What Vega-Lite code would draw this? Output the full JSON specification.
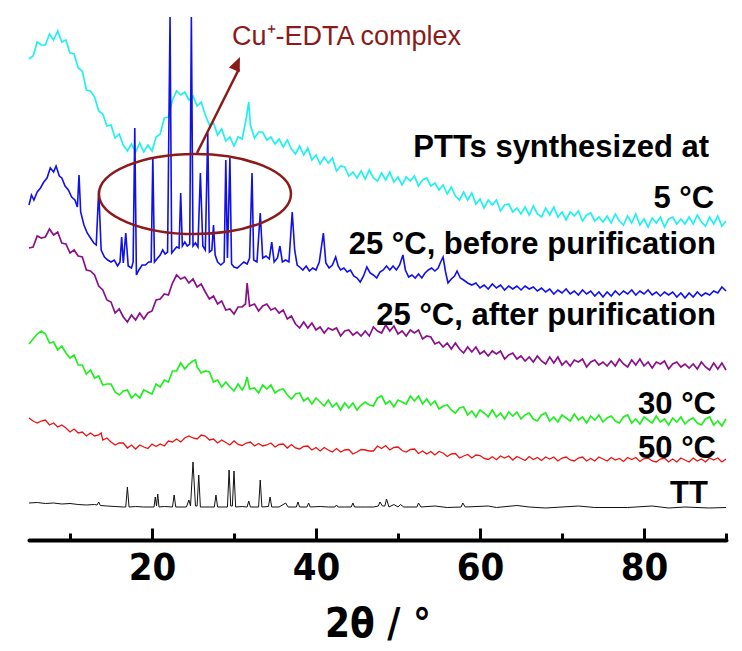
{
"$schema": "https://vega.github.io/schema/vega-lite/v6.json",
"width": 697, "height": 540,
"autosize": {"type": "none"},
"padding": {"left": 29, "right": 16, "top": 0, "bottom": 111},
"background": "white",
"config": {"view": {"stroke": null}},
"resolve": {"axis": {"x": "independent"}},
"datasets": {
"cyan": [{"x":5,"y":481},{"x":5.5,"y":484},{"x":6,"y":498},{"x":6.5,"y":495},{"x":7,"y":495},{"x":7.5,"y":506},{"x":8,"y":500},{"x":8.5,"y":509},{"x":9,"y":498},{"x":9.5,"y":500},{"x":10,"y":487},{"x":10.5,"y":486},{"x":11,"y":472},{"x":11.5,"y":469},{"x":12,"y":450},{"x":12.5,"y":449},{"x":13,"y":443},{"x":13.5,"y":429},{"x":14,"y":426},{"x":14.5,"y":414},{"x":15,"y":415},{"x":15.5,"y":402},{"x":16,"y":406},{"x":16.5,"y":395},{"x":17,"y":389},{"x":17.5,"y":396},{"x":18,"y":388},{"x":18.5,"y":397},{"x":19,"y":388},{"x":19.5,"y":395},{"x":20,"y":389},{"x":20.5,"y":403},{"x":21,"y":406},{"x":21.5,"y":422},{"x":22,"y":423},{"x":22.5,"y":440},{"x":23,"y":449},{"x":23.5,"y":445},{"x":24,"y":448},{"x":24.5,"y":440},{"x":25,"y":444},{"x":25.5,"y":434},{"x":26,"y":438},{"x":26.5,"y":425},{"x":27,"y":415},{"x":27.5,"y":417},{"x":28,"y":405},{"x":28.5,"y":411},{"x":29,"y":399},{"x":29.5,"y":403},{"x":30,"y":394},{"x":30.5,"y":403},{"x":31,"y":401},{"x":31.5,"y":422},{"x":31.8,"y":438},{"x":32,"y":415},{"x":32.5,"y":402},{"x":33,"y":408},{"x":33.5,"y":408},{"x":34,"y":400},{"x":34.5,"y":403},{"x":35,"y":396},{"x":35.5,"y":401},{"x":36,"y":393},{"x":36.5,"y":400},{"x":37,"y":391},{"x":37.5,"y":386},{"x":38,"y":394},{"x":38.5,"y":385},{"x":39,"y":392},{"x":39.5,"y":380},{"x":40,"y":385},{"x":40.5,"y":376},{"x":41,"y":383},{"x":41.5,"y":377},{"x":42,"y":382},{"x":42.5,"y":369},{"x":43,"y":374},{"x":43.5,"y":373},{"x":44,"y":364},{"x":44.5,"y":368},{"x":45,"y":362},{"x":45.5,"y":369},{"x":46,"y":361},{"x":46.5,"y":370},{"x":47,"y":362},{"x":47.5,"y":359},{"x":48,"y":367},{"x":48.5,"y":360},{"x":49,"y":368},{"x":49.5,"y":358},{"x":50,"y":363},{"x":50.5,"y":355},{"x":51,"y":363},{"x":51.5,"y":359},{"x":52,"y":364},{"x":52.5,"y":354},{"x":53,"y":360},{"x":53.5,"y":362},{"x":54,"y":354},{"x":54.5,"y":357},{"x":55,"y":350},{"x":55.5,"y":355},{"x":56,"y":346},{"x":56.5,"y":353},{"x":57,"y":344},{"x":57.5,"y":340},{"x":58,"y":348},{"x":58.5,"y":340},{"x":59,"y":347},{"x":59.5,"y":336},{"x":60,"y":341},{"x":60.5,"y":332},{"x":61,"y":340},{"x":61.5,"y":335},{"x":62,"y":340},{"x":62.5,"y":329},{"x":63,"y":335},{"x":63.5,"y":336},{"x":64,"y":328},{"x":64.5,"y":332},{"x":65,"y":326},{"x":65.5,"y":333},{"x":66,"y":325},{"x":66.5,"y":334},{"x":67,"y":326},{"x":67.5,"y":323},{"x":68,"y":332},{"x":68.5,"y":325},{"x":69,"y":333},{"x":69.5,"y":323},{"x":70,"y":328},{"x":70.5,"y":320},{"x":71,"y":328},{"x":71.5,"y":324},{"x":72,"y":329},{"x":72.5,"y":319},{"x":73,"y":325},{"x":73.5,"y":327},{"x":74,"y":319},{"x":74.5,"y":323},{"x":75,"y":318},{"x":75.5,"y":324},{"x":76,"y":317},{"x":76.5,"y":326},{"x":77,"y":319},{"x":77.5,"y":315},{"x":78,"y":324},{"x":78.5,"y":317},{"x":79,"y":326},{"x":79.5,"y":315},{"x":80,"y":321},{"x":80.5,"y":313},{"x":81,"y":322},{"x":81.5,"y":317},{"x":82,"y":323},{"x":82.5,"y":313},{"x":83,"y":321},{"x":83.5,"y":323},{"x":84,"y":316},{"x":84.5,"y":321},{"x":85,"y":316},{"x":85.5,"y":323},{"x":86,"y":316},{"x":86.5,"y":325},{"x":87,"y":318},{"x":87.5,"y":314},{"x":88,"y":323},{"x":88.5,"y":316},{"x":89,"y":324},{"x":89.5,"y":314},{"x":90,"y":319}],
"blue": [{"x":5,"y":335},{"x":5.3,"y":345},{"x":5.6,"y":340},{"x":6,"y":348},{"x":6.4,"y":352},{"x":6.8,"y":358},{"x":7.2,"y":362},{"x":7.6,"y":372},{"x":8,"y":368},{"x":8.3,"y":374},{"x":8.7,"y":364},{"x":9,"y":362},{"x":9.4,"y":354},{"x":9.8,"y":350},{"x":10.2,"y":343},{"x":10.6,"y":340},{"x":10.9,"y":333},{"x":11.1,"y":365},{"x":11.3,"y":328},{"x":11.7,"y":315},{"x":12.1,"y":307},{"x":12.5,"y":302},{"x":12.9,"y":297},{"x":13.2,"y":295},{"x":13.5,"y":350},{"x":13.8,"y":290},{"x":14.2,"y":283},{"x":14.6,"y":280},{"x":15,"y":278},{"x":15.4,"y":280},{"x":15.8,"y":274},{"x":16.1,"y":278},{"x":16.3,"y":303},{"x":16.5,"y":277},{"x":16.8,"y":307},{"x":17.1,"y":274},{"x":17.5,"y":272},{"x":17.7,"y":278},{"x":17.9,"y":412},{"x":18.1,"y":265},{"x":18.4,"y":270},{"x":18.8,"y":275},{"x":19.2,"y":275},{"x":19.6,"y":278},{"x":19.9,"y":278},{"x":20.1,"y":383},{"x":20.3,"y":278},{"x":20.7,"y":282},{"x":21,"y":285},{"x":21.3,"y":290},{"x":21.6,"y":286},{"x":21.9,"y":288},{"x":22.2,"y":523},{"x":22.4,"y":287},{"x":22.7,"y":290},{"x":23,"y":293},{"x":23.3,"y":292},{"x":23.5,"y":347},{"x":23.7,"y":294},{"x":24,"y":298},{"x":24.3,"y":294},{"x":24.6,"y":296},{"x":24.8,"y":523},{"x":25,"y":294},{"x":25.3,"y":297},{"x":25.6,"y":293},{"x":25.9,"y":367},{"x":26.2,"y":294},{"x":26.5,"y":290},{"x":26.8,"y":407},{"x":27,"y":288},{"x":27.3,"y":290},{"x":27.5,"y":315},{"x":27.7,"y":285},{"x":28,"y":278},{"x":28.4,"y":275},{"x":28.8,"y":278},{"x":29,"y":380},{"x":29.2,"y":282},{"x":29.5,"y":382},{"x":29.7,"y":276},{"x":30,"y":273},{"x":30.4,"y":272},{"x":30.8,"y":275},{"x":31.2,"y":278},{"x":31.6,"y":276},{"x":31.9,"y":282},{"x":32.2,"y":367},{"x":32.4,"y":280},{"x":32.8,"y":278},{"x":33.2,"y":327},{"x":33.5,"y":282},{"x":33.9,"y":284},{"x":34.3,"y":281},{"x":34.6,"y":298},{"x":34.9,"y":278},{"x":35.3,"y":282},{"x":35.6,"y":294},{"x":35.9,"y":278},{"x":36.3,"y":280},{"x":36.7,"y":278},{"x":37.1,"y":328},{"x":37.4,"y":290},{"x":37.7,"y":275},{"x":38,"y":273},{"x":38.4,"y":270},{"x":38.8,"y":274},{"x":39.2,"y":269},{"x":39.6,"y":272},{"x":40,"y":270},{"x":40.4,"y":278},{"x":40.9,"y":307},{"x":41.2,"y":277},{"x":41.6,"y":272},{"x":42,"y":275},{"x":42.4,"y":283},{"x":42.7,"y":274},{"x":43,"y":270},{"x":43.4,"y":272},{"x":43.8,"y":268},{"x":44.2,"y":270},{"x":44.6,"y":264},{"x":45,"y":262},{"x":45.4,"y":258},{"x":45.8,"y":264},{"x":46.2,"y":273},{"x":46.6,"y":267},{"x":47,"y":265},{"x":47.4,"y":262},{"x":47.8,"y":268},{"x":48.2,"y":270},{"x":48.6,"y":274},{"x":49,"y":270},{"x":49.4,"y":274},{"x":49.8,"y":270},{"x":50.2,"y":275},{"x":50.6,"y":285},{"x":50.9,"y":270},{"x":51.3,"y":263},{"x":51.7,"y":265},{"x":52.1,"y":262},{"x":52.5,"y":266},{"x":52.9,"y":262},{"x":53.3,"y":267},{"x":53.7,"y":270},{"x":54.1,"y":272},{"x":54.5,"y":269},{"x":54.9,"y":272},{"x":55.2,"y":278},{"x":55.5,"y":283},{"x":55.8,"y":268},{"x":56.1,"y":257},{"x":56.5,"y":261},{"x":56.9,"y":264},{"x":57.2,"y":269},{"x":57.6,"y":262},{"x":58,"y":260},{"x":58.5,"y":257},{"x":59,"y":255},{"x":59.5,"y":257},{"x":60,"y":252},{"x":60.5,"y":255},{"x":61,"y":251},{"x":61.5,"y":256},{"x":62,"y":252},{"x":62.5,"y":255},{"x":63,"y":250},{"x":63.5,"y":254},{"x":64,"y":251},{"x":64.5,"y":254},{"x":65,"y":250},{"x":65.5,"y":254},{"x":66,"y":251},{"x":66.5,"y":253},{"x":67,"y":249},{"x":67.5,"y":252},{"x":68,"y":248},{"x":68.5,"y":251},{"x":69,"y":246},{"x":69.5,"y":250},{"x":70,"y":247},{"x":70.5,"y":251},{"x":71,"y":246},{"x":71.5,"y":249},{"x":72,"y":245},{"x":72.5,"y":250},{"x":73,"y":246},{"x":73.5,"y":249},{"x":74,"y":244},{"x":74.5,"y":248},{"x":75,"y":243},{"x":75.5,"y":248},{"x":76,"y":244},{"x":76.5,"y":249},{"x":77,"y":245},{"x":77.5,"y":249},{"x":78,"y":246},{"x":78.5,"y":250},{"x":79,"y":245},{"x":79.5,"y":249},{"x":80,"y":246},{"x":80.5,"y":250},{"x":81,"y":245},{"x":81.5,"y":248},{"x":82,"y":244},{"x":82.5,"y":248},{"x":83,"y":245},{"x":83.5,"y":248},{"x":84,"y":243},{"x":84.5,"y":247},{"x":85,"y":242},{"x":85.5,"y":247},{"x":86,"y":243},{"x":86.5,"y":248},{"x":87,"y":244},{"x":87.5,"y":247},{"x":88,"y":245},{"x":88.5,"y":249},{"x":89,"y":247},{"x":89.5,"y":253},{"x":90,"y":249}],
"purple": [{"x":5,"y":292},{"x":5.5,"y":293},{"x":6,"y":304},{"x":6.5,"y":302},{"x":7,"y":303},{"x":7.5,"y":311},{"x":8,"y":305},{"x":8.5,"y":308},{"x":9,"y":297},{"x":9.5,"y":296},{"x":10,"y":287},{"x":10.5,"y":290},{"x":11,"y":284},{"x":11.5,"y":283},{"x":12,"y":270},{"x":12.5,"y":269},{"x":13,"y":265},{"x":13.5,"y":254},{"x":14,"y":250},{"x":14.5,"y":240},{"x":15,"y":238},{"x":15.5,"y":227},{"x":16,"y":231},{"x":16.5,"y":223},{"x":17,"y":218},{"x":17.5,"y":225},{"x":18,"y":220},{"x":18.5,"y":227},{"x":19,"y":221},{"x":19.5,"y":227},{"x":20,"y":229},{"x":20.5,"y":240},{"x":21,"y":241},{"x":21.5,"y":246},{"x":22,"y":245},{"x":22.5,"y":257},{"x":23,"y":265},{"x":23.5,"y":261},{"x":24,"y":263},{"x":24.5,"y":257},{"x":25,"y":261},{"x":25.5,"y":253},{"x":26,"y":256},{"x":26.5,"y":248},{"x":27,"y":241},{"x":27.5,"y":244},{"x":28,"y":236},{"x":28.5,"y":239},{"x":29,"y":230},{"x":29.5,"y":231},{"x":30,"y":226},{"x":30.5,"y":233},{"x":31,"y":233},{"x":31.4,"y":236},{"x":31.6,"y":257},{"x":31.9,"y":234},{"x":32.5,"y":236},{"x":33,"y":229},{"x":33.5,"y":234},{"x":34,"y":236},{"x":34.5,"y":230},{"x":35,"y":232},{"x":35.5,"y":227},{"x":36,"y":230},{"x":36.5,"y":221},{"x":37,"y":224},{"x":37.5,"y":216},{"x":38,"y":212},{"x":38.5,"y":218},{"x":39,"y":212},{"x":39.5,"y":217},{"x":40,"y":210},{"x":40.5,"y":213},{"x":41,"y":207},{"x":41.5,"y":212},{"x":42,"y":210},{"x":42.5,"y":212},{"x":43,"y":204},{"x":43.5,"y":209},{"x":44,"y":210},{"x":44.5,"y":205},{"x":45,"y":208},{"x":45.5,"y":204},{"x":46,"y":209},{"x":46.5,"y":204},{"x":47,"y":213},{"x":47.5,"y":209},{"x":48,"y":207},{"x":48.5,"y":215},{"x":49,"y":209},{"x":49.5,"y":214},{"x":50,"y":206},{"x":50.5,"y":209},{"x":51,"y":204},{"x":51.5,"y":210},{"x":52,"y":207},{"x":52.5,"y":210},{"x":53,"y":201},{"x":53.5,"y":204},{"x":54,"y":203},{"x":54.5,"y":196},{"x":55,"y":198},{"x":55.5,"y":193},{"x":56,"y":197},{"x":56.5,"y":191},{"x":57,"y":197},{"x":57.5,"y":191},{"x":58,"y":187},{"x":58.5,"y":193},{"x":59,"y":188},{"x":59.5,"y":193},{"x":60,"y":186},{"x":60.5,"y":189},{"x":61,"y":184},{"x":61.5,"y":189},{"x":62,"y":186},{"x":62.5,"y":189},{"x":63,"y":181},{"x":63.5,"y":185},{"x":64,"y":187},{"x":64.5,"y":181},{"x":65,"y":184},{"x":65.5,"y":179},{"x":66,"y":183},{"x":66.5,"y":178},{"x":67,"y":184},{"x":67.5,"y":179},{"x":68,"y":176},{"x":68.5,"y":183},{"x":69,"y":177},{"x":69.5,"y":183},{"x":70,"y":175},{"x":70.5,"y":179},{"x":71,"y":174},{"x":71.5,"y":180},{"x":72,"y":178},{"x":72.5,"y":181},{"x":73,"y":173},{"x":73.5,"y":178},{"x":74,"y":180},{"x":74.5,"y":175},{"x":75,"y":178},{"x":75.5,"y":174},{"x":76,"y":179},{"x":76.5,"y":174},{"x":77,"y":181},{"x":77.5,"y":176},{"x":78,"y":173},{"x":78.5,"y":180},{"x":79,"y":175},{"x":79.5,"y":181},{"x":80,"y":174},{"x":80.5,"y":178},{"x":81,"y":172},{"x":81.5,"y":178},{"x":82,"y":176},{"x":82.5,"y":179},{"x":83,"y":171},{"x":83.5,"y":176},{"x":84,"y":178},{"x":84.5,"y":173},{"x":85,"y":176},{"x":85.5,"y":172},{"x":86,"y":176},{"x":86.5,"y":171},{"x":87,"y":178},{"x":87.5,"y":173},{"x":88,"y":170},{"x":88.5,"y":177},{"x":89,"y":171},{"x":89.5,"y":177},{"x":90,"y":170}],
"green": [{"x":5,"y":196},{"x":5.5,"y":201},{"x":6,"y":206},{"x":6.5,"y":209},{"x":7,"y":206},{"x":7.5,"y":197},{"x":8,"y":198},{"x":8.5,"y":190},{"x":9,"y":194},{"x":9.5,"y":187},{"x":10,"y":182},{"x":10.5,"y":185},{"x":11,"y":175},{"x":11.5,"y":175},{"x":12,"y":166},{"x":12.5,"y":170},{"x":13,"y":162},{"x":13.5,"y":164},{"x":14,"y":155},{"x":14.5,"y":156},{"x":15,"y":156},{"x":15.5,"y":148},{"x":16,"y":145},{"x":16.5,"y":149},{"x":17,"y":150},{"x":17.5,"y":142},{"x":18,"y":146},{"x":18.5,"y":142},{"x":19,"y":150},{"x":19.5,"y":148},{"x":20,"y":146},{"x":20.5,"y":156},{"x":21,"y":153},{"x":21.5,"y":160},{"x":22,"y":158},{"x":22.5,"y":169},{"x":23,"y":169},{"x":23.5,"y":177},{"x":24,"y":171},{"x":24.5,"y":176},{"x":25,"y":179},{"x":25.3,"y":180},{"x":25.5,"y":173},{"x":26,"y":167},{"x":26.5,"y":169},{"x":27,"y":168},{"x":27.5,"y":158},{"x":28,"y":160},{"x":28.5,"y":153},{"x":29,"y":158},{"x":29.5,"y":153},{"x":30,"y":149},{"x":30.5,"y":156},{"x":31,"y":150},{"x":31.3,"y":154},{"x":31.6,"y":163},{"x":31.9,"y":151},{"x":32.5,"y":152},{"x":33,"y":147},{"x":33.5,"y":155},{"x":34,"y":151},{"x":34.5,"y":155},{"x":35,"y":147},{"x":35.5,"y":150},{"x":36,"y":151},{"x":36.5,"y":145},{"x":37,"y":141},{"x":37.5,"y":146},{"x":38,"y":147},{"x":38.5,"y":139},{"x":39,"y":142},{"x":39.5,"y":136},{"x":40,"y":142},{"x":40.5,"y":138},{"x":41,"y":134},{"x":41.5,"y":140},{"x":42,"y":133},{"x":42.5,"y":137},{"x":43,"y":130},{"x":43.5,"y":137},{"x":44,"y":132},{"x":44.5,"y":137},{"x":45,"y":130},{"x":45.5,"y":135},{"x":46,"y":138},{"x":46.5,"y":135},{"x":47,"y":134},{"x":47.5,"y":142},{"x":48,"y":144},{"x":48.5,"y":136},{"x":49,"y":139},{"x":49.5,"y":133},{"x":50,"y":140},{"x":50.5,"y":138},{"x":51,"y":136},{"x":51.5,"y":144},{"x":52,"y":139},{"x":52.5,"y":144},{"x":53,"y":136},{"x":53.5,"y":141},{"x":54,"y":135},{"x":54.5,"y":139},{"x":55,"y":131},{"x":55.5,"y":134},{"x":56,"y":135},{"x":56.5,"y":130},{"x":57,"y":127},{"x":57.5,"y":132},{"x":58,"y":133},{"x":58.5,"y":125},{"x":59,"y":129},{"x":59.5,"y":123},{"x":60,"y":130},{"x":60.5,"y":127},{"x":61,"y":123},{"x":61.5,"y":130},{"x":62,"y":123},{"x":62.5,"y":127},{"x":63,"y":121},{"x":63.5,"y":128},{"x":64,"y":124},{"x":64.5,"y":128},{"x":65,"y":121},{"x":65.5,"y":125},{"x":66,"y":127},{"x":66.5,"y":121},{"x":67,"y":119},{"x":67.5,"y":125},{"x":68,"y":127},{"x":68.5,"y":119},{"x":69,"y":123},{"x":69.5,"y":118},{"x":70,"y":125},{"x":70.5,"y":122},{"x":71,"y":119},{"x":71.5,"y":126},{"x":72,"y":120},{"x":72.5,"y":123},{"x":73,"y":117},{"x":73.5,"y":124},{"x":74,"y":120},{"x":74.5,"y":125},{"x":75,"y":118},{"x":75.5,"y":122},{"x":76,"y":124},{"x":76.5,"y":119},{"x":77,"y":117},{"x":77.5,"y":123},{"x":78,"y":125},{"x":78.5,"y":117},{"x":79,"y":121},{"x":79.5,"y":116},{"x":80,"y":123},{"x":80.5,"y":120},{"x":81,"y":117},{"x":81.5,"y":124},{"x":82,"y":118},{"x":82.5,"y":121},{"x":83,"y":115},{"x":83.5,"y":122},{"x":84,"y":118},{"x":84.5,"y":123},{"x":85,"y":116},{"x":85.5,"y":120},{"x":86,"y":122},{"x":86.5,"y":117},{"x":87,"y":115},{"x":87.5,"y":121},{"x":88,"y":123},{"x":88.5,"y":115},{"x":89,"y":119},{"x":89.5,"y":114},{"x":90,"y":121}],
"red": [{"x":5,"y":122},{"x":5.5,"y":119},{"x":6,"y":117},{"x":6.5,"y":119},{"x":7,"y":120},{"x":7.5,"y":115},{"x":8,"y":117},{"x":8.5,"y":113},{"x":9,"y":115},{"x":9.5,"y":112},{"x":10,"y":108},{"x":10.5,"y":111},{"x":11,"y":107},{"x":11.5,"y":108},{"x":12,"y":104},{"x":12.5,"y":107},{"x":13,"y":104},{"x":13.5,"y":105},{"x":13.8,"y":107},{"x":14,"y":100},{"x":14.5,"y":102},{"x":15,"y":98},{"x":15.5,"y":95},{"x":16,"y":97},{"x":16.5,"y":97},{"x":17,"y":92},{"x":17.5,"y":95},{"x":18,"y":91},{"x":18.5,"y":95},{"x":19,"y":93},{"x":19.5,"y":91.5},{"x":20,"y":96},{"x":20.5,"y":93.5},{"x":21,"y":96},{"x":21.5,"y":94},{"x":22,"y":99},{"x":22.5,"y":98},{"x":23,"y":101},{"x":23.5,"y":98},{"x":24,"y":102},{"x":24.5,"y":104},{"x":25,"y":102},{"x":25.5,"y":101},{"x":26,"y":105},{"x":26.5,"y":104},{"x":27,"y":100},{"x":27.5,"y":101},{"x":28,"y":97},{"x":28.5,"y":100},{"x":29,"y":97.5},{"x":29.5,"y":95},{"x":30,"y":99},{"x":30.5,"y":95.5},{"x":31,"y":94.5},{"x":31.5,"y":97},{"x":32,"y":98},{"x":32.5,"y":94},{"x":33,"y":96.5},{"x":33.5,"y":94},{"x":34,"y":95},{"x":34.5,"y":97},{"x":35,"y":93},{"x":35.5,"y":95.5},{"x":36,"y":96},{"x":36.5,"y":92},{"x":37,"y":95.5},{"x":37.5,"y":92},{"x":38,"y":91},{"x":38.5,"y":93.5},{"x":39,"y":94},{"x":39.5,"y":90},{"x":40,"y":92.5},{"x":40.5,"y":89},{"x":41,"y":92.5},{"x":41.5,"y":90},{"x":42,"y":88},{"x":42.5,"y":91.5},{"x":43,"y":88},{"x":43.5,"y":90},{"x":44,"y":90.5},{"x":44.5,"y":86},{"x":45,"y":88},{"x":45.5,"y":90.5},{"x":46,"y":90},{"x":46.5,"y":89},{"x":47,"y":89},{"x":47.5,"y":94},{"x":48,"y":91.5},{"x":48.5,"y":94.5},{"x":49,"y":90},{"x":49.5,"y":92.5},{"x":50,"y":93},{"x":50.5,"y":89.5},{"x":51,"y":88},{"x":51.5,"y":90.5},{"x":52,"y":91},{"x":52.5,"y":86.5},{"x":53,"y":89},{"x":53.5,"y":86},{"x":54,"y":88.5},{"x":54.5,"y":85},{"x":55,"y":88.5},{"x":55.5,"y":87},{"x":56,"y":83.5},{"x":56.5,"y":86},{"x":57,"y":86.5},{"x":57.5,"y":82},{"x":58,"y":84},{"x":58.5,"y":85.5},{"x":59,"y":82},{"x":59.5,"y":85},{"x":60,"y":84.5},{"x":60.5,"y":81.5},{"x":61,"y":80.5},{"x":61.5,"y":83.3},{"x":62,"y":80.3},{"x":62.5,"y":84},{"x":63,"y":82},{"x":63.5,"y":84},{"x":64,"y":80},{"x":64.5,"y":83.5},{"x":65,"y":81.5},{"x":65.5,"y":79.5},{"x":66,"y":83.5},{"x":66.5,"y":80.5},{"x":67,"y":82.5},{"x":67.5,"y":79.5},{"x":68,"y":83},{"x":68.5,"y":81},{"x":69,"y":83},{"x":69.5,"y":79},{"x":70,"y":82},{"x":70.5,"y":83},{"x":71,"y":80},{"x":71.5,"y":79},{"x":72,"y":82},{"x":72.5,"y":83},{"x":73,"y":79},{"x":73.5,"y":81.5},{"x":74,"y":79},{"x":74.5,"y":83},{"x":75,"y":81},{"x":75.5,"y":79},{"x":76,"y":82.5},{"x":76.5,"y":80},{"x":77,"y":81.5},{"x":77.5,"y":78.5},{"x":78,"y":82.5},{"x":78.5,"y":80.5},{"x":79,"y":82.5},{"x":79.5,"y":78.5},{"x":80,"y":81.5},{"x":80.5,"y":82},{"x":81,"y":79},{"x":81.5,"y":78},{"x":82,"y":81},{"x":82.5,"y":82},{"x":83,"y":78},{"x":83.5,"y":81},{"x":84,"y":78},{"x":84.5,"y":82},{"x":85,"y":80},{"x":85.5,"y":78},{"x":86,"y":82},{"x":86.5,"y":79},{"x":87,"y":81},{"x":87.5,"y":78},{"x":88,"y":82},{"x":88.5,"y":80},{"x":89,"y":82},{"x":89.5,"y":78},{"x":90,"y":81}],
"black": [{"x":5,"y":37},{"x":6,"y":37.5},{"x":7,"y":36.5},{"x":8,"y":37},{"x":9,"y":36},{"x":10,"y":36.5},{"x":11,"y":35.5},{"x":12,"y":35},{"x":13,"y":35.5},{"x":13.3,"y":35},{"x":13.5,"y":38},{"x":13.7,"y":34.5},{"x":14.5,"y":34},{"x":15.5,"y":33.5},{"x":16.5,"y":33},{"x":16.8,"y":33},{"x":17,"y":53},{"x":17.2,"y":33},{"x":18,"y":33.5},{"x":19,"y":33},{"x":20,"y":33},{"x":20.25,"y":33},{"x":20.4,"y":43},{"x":20.55,"y":34},{"x":20.7,"y":46},{"x":20.85,"y":33},{"x":21.5,"y":33.5},{"x":22.5,"y":33},{"x":22.7,"y":45},{"x":22.9,"y":33},{"x":24.2,"y":33},{"x":24.5,"y":40},{"x":24.7,"y":34},{"x":25,"y":78},{"x":25.3,"y":34},{"x":25.5,"y":34},{"x":25.7,"y":65},{"x":25.9,"y":33},{"x":27,"y":33},{"x":27.6,"y":33},{"x":27.8,"y":45},{"x":28,"y":33},{"x":29.2,"y":33},{"x":29.4,"y":70},{"x":29.6,"y":34},{"x":29.8,"y":34},{"x":30,"y":69},{"x":30.2,"y":33},{"x":31,"y":33.5},{"x":31.6,"y":33},{"x":31.8,"y":39},{"x":32,"y":33},{"x":33,"y":33},{"x":33.2,"y":60},{"x":33.4,"y":33},{"x":34.2,"y":33.5},{"x":34.4,"y":43},{"x":34.6,"y":33},{"x":35.5,"y":33},{"x":36.3,"y":37},{"x":36.6,"y":33},{"x":37.6,"y":33},{"x":37.8,"y":38},{"x":38,"y":33},{"x":38.9,"y":33},{"x":39.1,"y":37},{"x":39.3,"y":33},{"x":40.5,"y":33.5},{"x":41.5,"y":33},{"x":42.3,"y":33},{"x":42.5,"y":35},{"x":42.7,"y":33},{"x":43.5,"y":33},{"x":44.3,"y":33},{"x":44.5,"y":37},{"x":44.7,"y":33},{"x":46,"y":33},{"x":47,"y":33},{"x":47.6,"y":34},{"x":47.8,"y":38},{"x":48.1,"y":34},{"x":48.4,"y":34},{"x":48.6,"y":41},{"x":48.9,"y":33},{"x":49.5,"y":35.5},{"x":50,"y":33},{"x":50.3,"y":35.5},{"x":50.7,"y":33},{"x":52.3,"y":33},{"x":52.5,"y":37},{"x":52.8,"y":33},{"x":54.5,"y":34},{"x":56,"y":32.5},{"x":57.7,"y":33},{"x":57.9,"y":37},{"x":58.2,"y":33},{"x":61,"y":34},{"x":62,"y":32.5},{"x":64.5,"y":34.5},{"x":66,"y":33},{"x":68,"y":32},{"x":72,"y":34},{"x":74,"y":32.5},{"x":78,"y":32.5},{"x":81,"y":34},{"x":83,"y":32},{"x":85,"y":33},{"x":88,"y":32},{"x":90,"y":32.5}],
"labels": [{"x":87.93,"y":383,"t":"PTTs synthesized at"},{"x":88.54,"y":332,"t":"5 °C"},{"x":88.78,"y":286,"t":"25 °C, before purification"},{"x":88.78,"y":215,"t":"25 °C, after purification"},{"x":88.78,"y":126,"t":"30 °C"},{"x":88.78,"y":82,"t":"50 °C"},{"x":87.8,"y":37,"t":"TT"}]
},
"encoding": {
  "y": {"field": "y", "type": "quantitative", "scale": {"domain": [0, 540], "nice": false, "zero": false}, "axis": null}
},
"layer": [
  {"data": {"name": "cyan"}, "mark": {"type": "line", "color": "#22f0f0", "strokeWidth": 1.7},
   "encoding": {"x": {"field": "x", "type": "quantitative",
    "scale": {"domain": [5, 90], "nice": false, "zero": false},
    "axis": {"orient": "bottom", "values": [20,40,60,80],
      "title": "2θ / °", "grid": false,
      "domainColor": "black", "domainWidth": 4, "domainCap": "round",
      "tickColor": "black", "tickWidth": 3, "tickSize": -12,
      "labelFont": "Liberation Sans Narrow, DejaVu Sans Condensed, sans-serif",
      "labelFontSize": 38, "labelFontWeight": "bold", "labelColor": "black",
      "labelPadding": 21, "labelFlush": false, "labelOverlap": false,
      "titleFont": "Liberation Sans Narrow, DejaVu Sans Condensed, sans-serif",
      "titleFontSize": 40, "titleFontWeight": "bold", "titleColor": "black", "titlePadding": 17}}}},
  {"data": {"name": "blue"}, "mark": {"type": "line", "color": "#1010e8", "strokeWidth": 1.6},
   "encoding": {"x": {"field": "x", "type": "quantitative",
    "axis": {"orient": "bottom", "values": [10,30,50,70,90], "title": null, "grid": false,
      "domain": false, "labels": false, "tickColor": "black", "tickWidth": 3, "tickSize": -7}}}},
  {"data": {"name": "purple"}, "mark": {"type": "line", "color": "#8a108a", "strokeWidth": 1.7},
   "encoding": {"x": {"field": "x", "type": "quantitative", "axis": null}}},
  {"data": {"name": "green"}, "mark": {"type": "line", "color": "#22ee22", "strokeWidth": 1.7},
   "encoding": {"x": {"field": "x", "type": "quantitative", "axis": null}}},
  {"data": {"name": "red"}, "mark": {"type": "line", "color": "#ee1111", "strokeWidth": 1.3},
   "encoding": {"x": {"field": "x", "type": "quantitative", "axis": null}}},
  {"data": {"name": "black"}, "mark": {"type": "line", "color": "#111111", "strokeWidth": 1},
   "encoding": {"x": {"field": "x", "type": "quantitative", "axis": null}}},
  {"data": {"values": [{"x": 25.24, "y": 346}]},
   "mark": {"type": "point", "shape": "M-1,0A1,0.417 0 1,0 1,0A1,0.417 0 1,0 -1,0", "size": 36864, "filled": false, "stroke": "#8b1a1a", "strokeWidth": 2.5, "opacity": 1},
   "encoding": {"x": {"field": "x", "type": "quantitative", "axis": null}}},
  {"data": {"values": [{"x": 25.49, "y": 387, "x2": 30.6, "y2": 471}]},
   "mark": {"type": "rule", "color": "#8b1a1a", "strokeWidth": 2.5},
   "encoding": {"x": {"field": "x", "type": "quantitative", "axis": null}, "x2": {"field": "x2"}, "y2": {"field": "y2"}}},
  {"data": {"values": [{"x": 30.73, "y": 483}]},
   "mark": {"type": "point", "shape": "M0,0L-0.42,1L0.42,1Z", "size": 784, "filled": true, "color": "#8b1a1a", "opacity": 1, "angle": 24},
   "encoding": {"x": {"field": "x", "type": "quantitative", "axis": null}}},
  {"data": {"values": [{"x": 29.76, "y": 495, "t": "Cu⁺-EDTA complex"}]},
   "mark": {"type": "text", "align": "left", "baseline": "alphabetic", "font": "Liberation Sans, Arial, sans-serif", "fontSize": 27, "color": "#8b1a1a"},
   "encoding": {"x": {"field": "x", "type": "quantitative", "axis": null}, "text": {"field": "t"}}},
  {"data": {"name": "labels"},
   "mark": {"type": "text", "align": "right", "baseline": "alphabetic", "font": "Liberation Sans, Arial, sans-serif", "fontSize": 31, "fontWeight": "bold", "color": "black"},
   "encoding": {"x": {"field": "x", "type": "quantitative", "axis": null}, "text": {"field": "t"}}}
]
}
